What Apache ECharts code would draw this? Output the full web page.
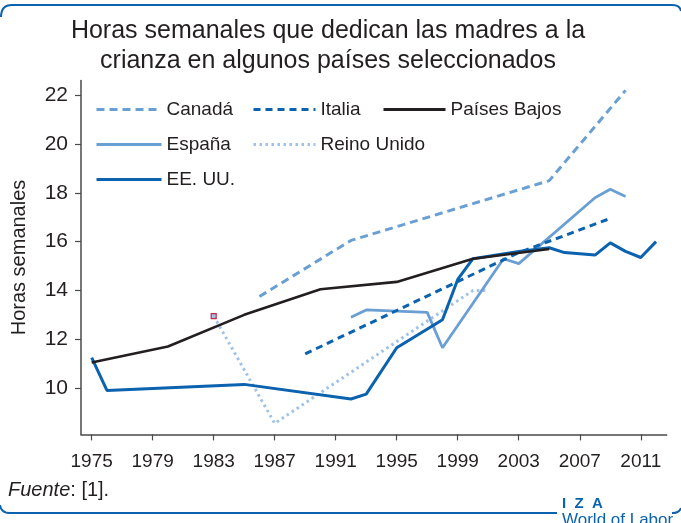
<!DOCTYPE html>
<html>
<head>
<meta charset="utf-8">
<script src="https://cdn.jsdelivr.net/npm/echarts@6/dist/echarts.min.js"></script>
<style>
  html, body { margin: 0; padding: 0; background: #fff; }
  #main { width: 681px; height: 523px; }
</style>
</head>
<body>
<div id="main"></div>
<script>
// horas semanales por país: [año, horas]
var canada = [[1986, 13.75], [1992, 16.05], [2005, 18.5], [2010, 22.2]];
var italia = [[1989, 11.4], [2003, 15.55], [2009, 16.95]];
var paisesBajos = [[1975, 11.05], [1980, 11.7], [1985, 13.0], [1990, 14.05], [1995, 14.35], [2000, 15.3], [2005, 15.7]];
var espana = [[1992, 12.9], [1993, 13.2], [1997, 13.1], [1998, 11.65], [2002, 15.3], [2003, 15.1], [2008, 17.8], [2009, 18.15], [2010, 17.85]];
var reinoUnido = [[1983, 12.95], [1987, 8.55], [2000, 14.0], [2001, 14.0]];
var eeuu = [[1975, 11.25], [1976, 9.9], [1985, 10.15], [1992, 9.55], [1993, 9.75], [1995, 11.65], [1998, 12.8], [1999, 14.45], [2000, 15.3], [2003, 15.6], [2005, 15.75], [2006, 15.55], [2008, 15.45], [2009, 15.95], [2010, 15.6], [2011, 15.35], [2012, 16.0]];

var xTicks = [1975, 1979, 1983, 1987, 1991, 1995, 1999, 2003, 2007, 2011];
var yTicks = [10, 12, 14, 16, 18, 20, 22];

var font = '"Liberation Sans", Arial, sans-serif';
var ink = '#231f20';
var blueDark = '#0b62ae';
var blueMid = '#6a9fd3';
var blueLight = '#9fc2e6';

var chart = echarts.init(document.getElementById('main'));

// el primer punto de Reino Unido lleva la marca "a"
var ukData = reinoUnido.map(function (p, i) {
    if (i === 0) {
        return {
            value: p,
            symbol: 'rect',
            symbolSize: 5,
            itemStyle: { color: blueLight, borderColor: '#c8284a', borderWidth: 1.2 }
        };
    }
    return p;
});

var legendText = { fontSize: 19, color: ink, fontFamily: font };
var legendBase = {
    orient: 'vertical', top: 100, padding: 0,
    itemHeight: 14, itemGap: 16,
    selectedMode: false, textStyle: legendText,
    itemStyle: { opacity: 0 },
    lineStyle: { width: 3 }
};
var frame = { fill: null, stroke: blueDark, lineWidth: 2 };

var option = {
    animation: false,
    backgroundColor: '#fff',
    title: {
        text: 'Horas semanales que dedican las madres a la\ncrianza en algunos países seleccionados',
        left: 323,
        top: 11,
        textAlign: 'center',
        textStyle: { fontSize: 25, fontWeight: 'normal', color: ink, fontFamily: font, lineHeight: 30, align: 'center' }
    },
    legend: [
        Object.assign({}, legendBase, { left: 95, itemWidth: 65, data: ['Canadá', 'España', 'EE. UU.'] }),
        Object.assign({}, legendBase, { left: 252, itemWidth: 62, data: ['Italia', 'Reino Unido'] }),
        Object.assign({}, legendBase, { left: 382, itemWidth: 62, data: ['Países Bajos'] })
    ],
    grid: { left: 81, right: 14.3, top: 80.6, bottom: 88.6, containLabel: false, outerBoundsMode: 'none' },
    xAxis: {
        type: 'value',
        min: 1974.3,
        max: 2012.7,
        splitLine: { show: false },
        axisLine: { lineStyle: { color: '#4a4a4a', width: 1.5 } },
        axisTick: { show: true, length: 6, customValues: xTicks, lineStyle: { color: '#4a4a4a', width: 1.2 } },
        axisLabel: {
            customValues: xTicks, margin: 18,
            fontSize: 19, color: ink, fontFamily: font,
            formatter: function (v) { return String(v); }
        }
    },
    yAxis: {
        type: 'value',
        min: 8.1,
        max: 22.6,
        name: 'Horas semanales',
        nameLocation: 'middle',
        nameGap: 52,
        nameTextStyle: { fontSize: 20, color: ink, fontFamily: font },
        splitLine: { show: false },
        axisLine: { show: true, lineStyle: { color: '#4a4a4a', width: 1.5 } },
        axisTick: { show: true, length: 6, customValues: yTicks, lineStyle: { color: '#4a4a4a', width: 1.2 } },
        axisLabel: {
            customValues: yTicks, margin: 13,
            fontSize: 21, color: ink, fontFamily: font
        }
    },
    series: [{
        name: 'Reino Unido', type: 'line', data: ukData,
        symbol: 'none', showSymbol: true,
        lineStyle: { color: blueLight, width: 3, type: [2.5, 3.5], cap: 'butt' },
        itemStyle: { color: blueLight }
    }, {
        name: 'Canadá', type: 'line', data: canada, symbol: 'none',
        lineStyle: { color: blueMid, width: 3, type: [8, 5], cap: 'butt' },
        itemStyle: { color: blueMid }
    }, {
        name: 'España', type: 'line', data: espana, symbol: 'none',
        lineStyle: { color: blueMid, width: 2.8 },
        itemStyle: { color: blueMid }
    }, {
        name: 'Italia', type: 'line', data: italia, symbol: 'none',
        lineStyle: { color: blueDark, width: 3, type: [7, 5], cap: 'butt' },
        itemStyle: { color: blueDark }
    }, {
        name: 'EE. UU.', type: 'line', data: eeuu, symbol: 'none',
        lineStyle: { color: blueDark, width: 3 },
        itemStyle: { color: blueDark }
    }, {
        name: 'Países Bajos', type: 'line', data: paisesBajos, symbol: 'none',
        lineStyle: { color: ink, width: 2.6 },
        itemStyle: { color: ink }
    }],
    graphic: [{
        type: 'bezierCurve', silent: true,
        shape: { x1: 1, y1: 17, x2: 12, y2: 5, cpx1: 1, cpy1: 5 },
        style: frame
    }, {
        type: 'line', silent: true,
        shape: { x1: 12, y1: 5, x2: 672, y2: 5 },
        style: frame
    }, {
        type: 'bezierCurve', silent: true,
        shape: { x1: 672, y1: 5, x2: 681, y2: 11, cpx1: 680, cpy1: 5 },
        style: frame
    }, {
        type: 'bezierCurve', silent: true,
        shape: { x1: 0, y1: 505, x2: 10, y2: 513, cpx1: 1, cpy1: 513 },
        style: frame
    }, {
        type: 'line', silent: true,
        shape: { x1: 10, y1: 513, x2: 557, y2: 513 },
        style: frame
    }, {
        type: 'bezierCurve', silent: true,
        shape: { x1: 672, y1: 513, x2: 681, y2: 508, cpx1: 679, cpy1: 513 },
        style: frame
    }, {
        type: 'text', left: 8, top: 480, silent: true,
        style: {
            text: '{i|Fuente}: [1].',
            fontSize: 20, fill: ink, fontFamily: font,
            rich: { i: { fontStyle: 'italic', fontSize: 20, fontFamily: font, color: ink } }
        }
    }, {
        type: 'text', x: 562, y: 496, silent: true,
        style: { text: 'I  Z  A', fontSize: 15, fontWeight: 'bold', fill: blueDark, fontFamily: font }
    }, {
        type: 'text', x: 562, y: 512, silent: true,
        style: { text: 'World of Labor', fontSize: 17, fill: blueDark, fontFamily: font }
    }]
};

chart.setOption(option);
</script>
</body>
</html>
